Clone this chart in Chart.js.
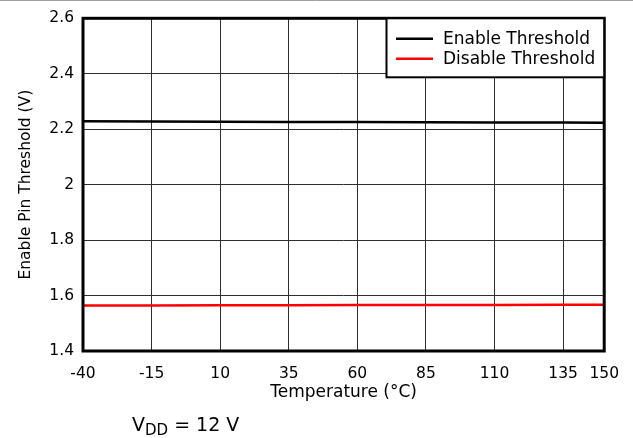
<!DOCTYPE html>
<html lang="en">
<head>
    <meta charset="UTF-8">
    <title>Enable Pin Threshold vs Temperature</title>
    <script src="https://cdn.jsdelivr.net/npm/chart.js"></script>
    <style>
        html, body {
            margin: 0;
            padding: 0;
            background: #ffffff;
        }
        #wrap {
            position: relative;
            width: 633px;
            height: 438px;
        }
    </style>
</head>
<body>
    <div id="wrap">
        <canvas id="thresholdChart"></canvas>
    </div>

    <script>
        // Values
        const temperatures = [-40, -15, 10, 35, 60, 85, 110, 135, 150];
        const enableThreshold = [2.229, 2.228, 2.227, 2.226, 2.226, 2.225, 2.224, 2.224, 2.223];
        const disableThreshold = [1.564, 1.564, 1.565, 1.565, 1.566, 1.566, 1.566, 1.567, 1.567];
        const xTicks = [-40, -15, 10, 35, 60, 85, 110, 135, 150];
        const seriesLabels = ['Enable Threshold', 'Disable Threshold'];

        const FONT = "'DejaVu Sans', sans-serif";

        // Frame, legend box, axis titles and the note under the plot
        const decorations = {
            id: 'decorations',
            beforeDraw(chart) {
                const c = chart.ctx;
                c.save();
                c.strokeStyle = '#a0a0a0';
                c.lineWidth = 1;
                c.beginPath();
                c.moveTo(0, 0.5);
                c.lineTo(chart.width, 0.5);
                c.stroke();
                c.restore();
            },
            afterDraw(chart) {
                const c = chart.ctx;
                const a = chart.chartArea;
                c.save();

                // plot frame
                c.strokeStyle = '#000';
                c.lineWidth = 3;
                c.strokeRect(a.left, a.top, a.right - a.left, a.bottom - a.top);

                // legend box in the top right corner
                const bx = 386.5, by = a.top, bw = a.right - bx, bh = 59;
                c.fillStyle = '#fff';
                c.fillRect(bx, by, bw, bh);
                c.lineWidth = 2;
                c.strokeStyle = '#000';
                c.strokeRect(bx, by, bw, bh);

                chart.data.datasets.forEach((ds, i) => {
                    const y = by + 20.5 + i * 20;
                    c.strokeStyle = ds.borderColor;
                    c.lineWidth = 2.5;
                    c.beginPath();
                    c.moveTo(396, y);
                    c.lineTo(433, y);
                    c.stroke();
                    c.fillStyle = '#000';
                    c.font = '17px ' + FONT;
                    c.textAlign = 'left';
                    c.textBaseline = 'middle';
                    c.fillText(ds.label, 443, y + 0.5);
                });

                // axis titles
                c.fillStyle = '#000';
                c.font = '17px ' + FONT;
                c.textAlign = 'center';
                c.textBaseline = 'alphabetic';
                c.fillText('Temperature (°C)', (a.left + a.right) / 2, 396.5);

                c.save();
                c.translate(30, (a.top + a.bottom) / 2);
                c.rotate(-Math.PI / 2);
                c.font = '15.5px ' + FONT;
                c.fillText('Enable Pin Threshold (V)', 0, 0);
                c.restore();

                // V_DD = 12 V
                c.textAlign = 'left';
                let x = 132;
                c.font = '19px ' + FONT;
                c.fillText('V', x, 431);
                x += c.measureText('V').width;
                c.font = '15px ' + FONT;
                c.fillText('DD', x, 435);
                x += c.measureText('DD').width;
                c.font = '19px ' + FONT;
                c.fillText(' = 12 V', x, 431);

                c.restore();
            }
        };

        const ctx = document.getElementById('thresholdChart').getContext('2d');
        const chart = new Chart(ctx, {
            type: 'line',
            data: {
                labels: temperatures,
                datasets: [{
                    label: seriesLabels[0],
                    data: temperatures.map((t, i) => ({ x: t, y: enableThreshold[i] })),
                    borderColor: '#000000',
                    borderWidth: 2.5,
                    pointRadius: 0,
                    tension: 0
                }, {
                    label: seriesLabels[1],
                    data: temperatures.map((t, i) => ({ x: t, y: disableThreshold[i] })),
                    borderColor: '#ff0000',
                    borderWidth: 2.5,
                    pointRadius: 0,
                    tension: 0
                }]
            },
            options: {
                responsive: true,
                maintainAspectRatio: false,
                animation: false,
                devicePixelRatio: 1,
                layout: {
                    padding: { left: 0, top: 17, right: 28, bottom: 0 }
                },
                plugins: {
                    legend: { display: false },
                    tooltip: { enabled: false }
                },
                scales: {
                    x: {
                        type: 'linear',
                        min: -40,
                        max: 150,
                        afterBuildTicks: (scale) => {
                            scale.ticks = xTicks.map(v => ({ value: v }));
                        },
                        afterFit: (scale) => { scale.height = 87; },
                        grid: { color: '#2e2e2e', lineWidth: 1, drawTicks: false },
                        border: { display: false },
                        ticks: {
                            color: '#000',
                            padding: 14,
                            maxRotation: 0,
                            autoSkip: false,
                            font: { family: FONT, size: 15.5 }
                        }
                    },
                    y: {
                        min: 1.4,
                        max: 2.6,
                        afterFit: (scale) => { scale.width = 83; },
                        grid: { color: '#2e2e2e', lineWidth: 1, drawTicks: false },
                        border: { display: false },
                        ticks: {
                            stepSize: 0.2,
                            color: '#000',
                            padding: 9,
                            font: { family: FONT, size: 15.5 },
                            callback: (v) => String(+v.toFixed(1))
                        }
                    }
                }
            },
            plugins: [decorations]
        });
    </script>
</body>
</html>
